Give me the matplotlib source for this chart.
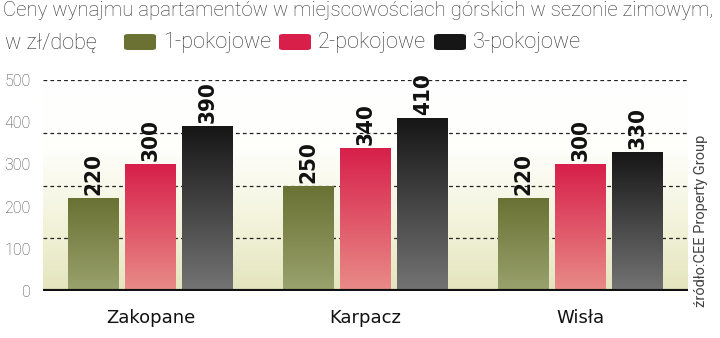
import matplotlib
matplotlib.use('Agg')
import matplotlib.pyplot as plt
import numpy as np
from matplotlib.colors import LinearSegmentedColormap
from matplotlib.patches import FancyBboxPatch

cities = ['Zakopane', 'Karpacz', 'Wisła']
series = ['1-pokojowe', '2-pokojowe', '3-pokojowe']
one_room = [220, 250, 220]
two_room = [300, 340, 300]
three_room = [390, 410, 330]
yticks = [0, 100, 200, 300, 400, 500]
grid_levels = [125, 250, 375, 500]

# top colour, bottom colour for each series
grads = [('#6a7133', '#9aa26e'), ('#d71f4a', '#e98c88'), ('#161616', '#747474')]
cond = ['Roboto', 'DejaVu Sans']

fig = plt.figure(figsize=(7.2, 3.38), dpi=100)
ax = fig.add_axes([43 / 720, 47 / 338, 645 / 720, 211 / 338])
ax.set_xlim(-0.5, 2.5)
ax.set_ylim(0, 500)

# background gradient
bg = LinearSegmentedColormap.from_list('bg', ['#e4e5bd', '#f3f3dc', '#fefefb', '#ffffff'])
ax.imshow(np.linspace(0, 1, 256).reshape(-1, 1), cmap=bg, aspect='auto',
          extent=(-0.5, 2.5, 0, 500), origin='lower', zorder=0)

x = np.arange(len(cities))
w = 0.237
step = 0.266
for i, (vals, (c1, c2)) in enumerate(zip([one_room, two_room, three_room], grads)):
    cm = LinearSegmentedColormap.from_list('g%d' % i, [c2, c1])
    bars = ax.bar(x + (i - 1) * step, vals, width=w, color='none', zorder=2)
    for b, v in zip(bars, vals):
        im = ax.imshow(np.linspace(0, 1, 256).reshape(-1, 1), cmap=cm, aspect='auto',
                       extent=(b.get_x(), b.get_x() + b.get_width(), 0, v),
                       origin='lower', zorder=2)
        im.set_clip_path(b)
        ax.text(b.get_x() + b.get_width() / 2, v + 7, str(v), rotation=90,
                ha='center', va='bottom', fontsize=16, fontweight='bold',
                fontstretch='condensed', family='DejaVu Sans',
                color='#111111', zorder=4, clip_on=False)

for g in grid_levels:
    ax.axhline(g, color='#222222', lw=0.9, ls=(0, (3, 2.5)), zorder=1)
ax.axhline(0, color='#111111', lw=3, zorder=5)

ax.set_xlim(-0.5, 2.5)
ax.set_ylim(0, 500)
ax.set_yticks(yticks)
ax.set_yticklabels([str(t) for t in yticks], fontsize=11.5, color='#444444',
                   family=cond, fontweight='light')
ax.set_xticks(x)
ax.set_xticklabels(cities, fontsize=13, color='#111111')
ax.tick_params(length=0, axis='y', pad=9)
ax.tick_params(length=0, axis='x', pad=13)
for s in ax.spines.values():
    s.set_visible(False)

fig.text(0.004, 0.998, 'Ceny wynajmu apartamentów w miejscowościach górskich w sezonie zimowym,',
         fontsize=14.7, color='#333333', va='top', family=cond, fontweight='light')
fig.text(0.007, 0.873, 'w zł/dobę', fontsize=15.6, color='#333333', va='center',
         family=cond, fontweight='light')

leg_x = [124, 279, 434]
for lx, name, (c1, c2) in zip(leg_x, series, grads):
    p = FancyBboxPatch((lx / 720, 1 - 50 / 338), 32 / 720, 16 / 338,
                       boxstyle='round,pad=0,rounding_size=0.006',
                       transform=fig.transFigure, facecolor=c1, edgecolor='none')
    fig.patches.append(p)
    fig.text((lx + 39) / 720, 0.873, name, fontsize=15.6, color='#333333',
             va='center', family=cond, fontweight='light')

fig.text(0.974, 0.346, 'źródło:CEE Property Group', rotation=90, fontsize=10.5,
         color='#444444', ha='center', va='center', family=cond)

fig.savefig('out.png', dpi=100)
